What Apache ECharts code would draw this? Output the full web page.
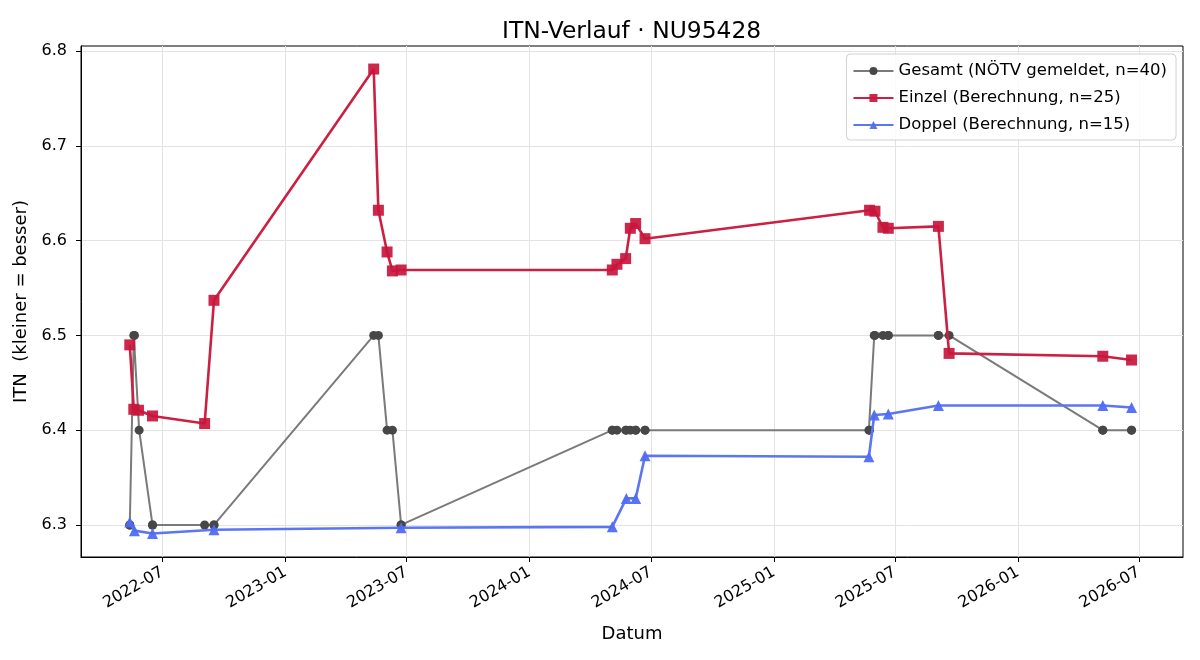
<!DOCTYPE html>
<html>
<head>
<meta charset="utf-8">
<script src="https://cdn.jsdelivr.net/npm/echarts@6/dist/echarts.min.js"></script>
<style>
  html, body { margin: 0; padding: 0; background: #fff; }
  #chart { width: 1200px; height: 660px; }
</style>
</head>
<body>
<div id="chart"></div>
<script>
// Gesamt (NÖTV gemeldet) – every match, gray
const gesamtDates = [
  "2022-05-13", "2022-05-13", "2022-05-19", "2022-05-20", "2022-05-27",
  "2022-06-16", "2022-06-16", "2022-09-02", "2022-09-16", "2022-09-16",
  "2023-05-13", "2023-05-20", "2023-06-02", "2023-06-10", "2023-06-23", "2023-06-23",
  "2024-05-04", "2024-05-04", "2024-05-11", "2024-05-24", "2024-05-25",
  "2024-05-31", "2024-06-08", "2024-06-08", "2024-06-22", "2024-06-22",
  "2025-05-23", "2025-05-24", "2025-05-31", "2025-06-01", "2025-06-13",
  "2025-06-21", "2025-06-21", "2025-09-04", "2025-09-04", "2025-09-20",
  "2026-05-08", "2026-05-08", "2026-06-20", "2026-06-20"
];
const gesamtValues = [
  6.3, 6.3, 6.5, 6.5, 6.4,
  6.3, 6.3, 6.3, 6.3, 6.3,
  6.5, 6.5, 6.4, 6.4, 6.3, 6.3,
  6.4, 6.4, 6.4, 6.4, 6.4,
  6.4, 6.4, 6.4, 6.4, 6.4,
  6.4, 6.4, 6.5, 6.5, 6.5,
  6.5, 6.5, 6.5, 6.5, 6.5,
  6.4, 6.4, 6.4, 6.4
];

// Einzel (Berechnung)
const einzelDates = [
  "2022-05-13", "2022-05-19", "2022-05-26", "2022-06-16", "2022-09-02", "2022-09-16",
  "2023-05-13", "2023-05-20", "2023-06-02", "2023-06-10", "2023-06-23",
  "2024-05-04", "2024-05-11", "2024-05-24", "2024-05-31", "2024-06-08", "2024-06-22",
  "2025-05-24", "2025-06-01", "2025-06-13", "2025-06-21", "2025-09-04", "2025-09-20",
  "2026-05-08", "2026-06-20"
];
const einzelValues = [
  6.490, 6.422, 6.421, 6.415, 6.407, 6.537,
  6.781, 6.632, 6.588, 6.568, 6.569,
  6.569, 6.575, 6.581, 6.613, 6.618, 6.602,
  6.632, 6.631, 6.614, 6.613, 6.615, 6.481,
  6.478, 6.474
];

// Doppel (Berechnung)
const doppelDates = [
  "2022-05-13", "2022-05-20", "2022-06-16", "2022-09-16",
  "2023-06-23",
  "2024-05-04", "2024-05-25", "2024-06-08", "2024-06-22",
  "2025-05-23", "2025-05-31", "2025-06-21", "2025-09-04",
  "2026-05-08", "2026-06-20"
];
const doppelValues = [
  6.303, 6.294, 6.291, 6.295,
  6.297,
  6.298, 6.328, 6.328, 6.373,
  6.372, 6.416, 6.417, 6.426,
  6.426, 6.424
];

// axis ticks
const xTickLabels = ["2022-07", "2023-01", "2023-07", "2024-01", "2024-07",
                     "2025-01", "2025-07", "2026-01", "2026-07"];
const yTickValues = [6.3, 6.4, 6.5, 6.6, 6.7, 6.8];

function toTime(s) {
  const p = s.split("-").map(Number);
  return Date.UTC(p[0], p[1] - 1, p[2] || 1);
}
function pairs(dates, values) {
  return dates.map((d, i) => [toTime(d), values[i]]);
}

const font = "DejaVu Sans";
const myChart = echarts.init(document.getElementById("chart"));
const option = {
  animation: false,
  backgroundColor: "#fff",
  textStyle: { fontFamily: font, color: "#000" },
  title: {
    text: "ITN-Verlauf · NU95428",
    left: 497,
    top: 15,
    textStyle: { fontFamily: font, fontSize: 23.4, fontWeight: "normal", color: "#000" },
  },
  legend: {
    orient: "vertical",
    right: 24,
    top: 54,
    padding: [7, 9, 5, 6],
    itemGap: 7,
    itemWidth: 40,
    itemHeight: 10,
    backgroundColor: "rgba(255,255,255,0.85)",
    borderColor: "#d0d0d0",
    borderWidth: 1,
    borderRadius: 4,
    textStyle: { fontFamily: font, fontSize: 16.5, color: "#000", lineHeight: 20 },
    data: [
      "Gesamt (NÖTV gemeldet, n=40)",
      "Einzel (Berechnung, n=25)",
      "Doppel (Berechnung, n=15)",
    ],
  },
  grid: {
    left: 81,
    right: 17,
    top: 46,
    bottom: 103,
    show: true,
    borderColor: "#000",
    borderWidth: 1,
    backgroundColor: "transparent",
  },
  xAxis: {
    type: "value",
    min: toTime("2022-03-01"),
    max: toTime("2026-09-05"),
    name: "Datum",
    nameLocation: "middle",
    nameGap: 68,
    nameTextStyle: { fontFamily: font, fontSize: 18, color: "#000" },
    axisLine: { show: true, onZero: false, lineStyle: { color: "#000", width: 1 } },
    axisTick: {
      show: true,
      length: 5,
      lineStyle: { color: "#000" },
      customValues: xTickLabels.map(toTime),
    },
    axisLabel: {
      rotate: 30,
      margin: 14,
      fontFamily: font,
      fontSize: 16,
      color: "#000",
      customValues: xTickLabels.map(toTime),
      formatter: function (v) {
        const d = new Date(v);
        const m = d.getUTCMonth() + 1;
        return d.getUTCFullYear() + "-" + (m < 10 ? "0" + m : m);
      },
    },
    splitLine: { show: true, lineStyle: { color: "#e3e3e3", width: 1 } },
  },
  yAxis: {
    type: "value",
    min: 6.2662,
    max: 6.8053,
    name: "ITN  (kleiner = besser)",
    nameLocation: "middle",
    nameRotate: 90,
    nameGap: 46,
    nameTextStyle: { fontFamily: font, fontSize: 18, color: "#000" },
    axisLine: { show: true, onZero: false, lineStyle: { color: "#000", width: 1 } },
    axisTick: {
      show: true,
      length: 5,
      lineStyle: { color: "#000" },
      customValues: yTickValues,
    },
    axisLabel: {
      margin: 14,
      fontFamily: font,
      fontSize: 16,
      color: "#000",
      customValues: yTickValues,
      formatter: function (v) { return v.toFixed(1); },
    },
    splitLine: { show: true, lineStyle: { color: "#e3e3e3", width: 1 } },
  },
  series: [
    {
      name: "Gesamt (NÖTV gemeldet, n=40)",
      type: "line",
      data: pairs(gesamtDates, gesamtValues),
      symbol: "circle",
      symbolSize: 9,
      showAllSymbol: true,
      lineStyle: { color: "#7a7a7a", width: 2 },
      itemStyle: { color: "#474747", borderWidth: 0 },
      z: 2,
    },
    {
      name: "Einzel (Berechnung, n=25)",
      type: "line",
      data: pairs(einzelDates, einzelValues),
      symbol: "rect",
      symbolSize: 11,
      showAllSymbol: true,
      lineStyle: { color: "#cc2043", width: 2.6 },
      itemStyle: { color: "#c8163c", borderWidth: 0, opacity: 0.92 },
      z: 3,
    },
    {
      name: "Doppel (Berechnung, n=15)",
      type: "line",
      data: pairs(doppelDates, doppelValues),
      symbol: "triangle",
      symbolSize: 11,
      showAllSymbol: true,
      lineStyle: { color: "#5a76f4", width: 2.6 },
      itemStyle: { color: "#4f6cf2", borderWidth: 0, opacity: 0.95 },
      z: 4,
    },
  ],
};
myChart.setOption(option);
</script>
</body>
</html>
